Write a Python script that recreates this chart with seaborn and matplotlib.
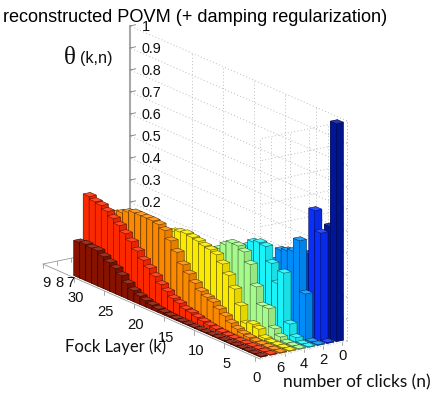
import numpy as np
import pandas as pd
import matplotlib
matplotlib.use("Agg")
import matplotlib.pyplot as plt
from matplotlib.colors import to_rgb
from mpl_toolkits.mplot3d import proj3d
import seaborn as sns

title_text = "reconstructed POVM (+ damping regularization)"
k_tick_labels = [0, 5, 10, 15, 20, 25, 30]
n_tick_labels = [0, 2, 4, 6]
n_far_labels = [9, 8, 7]
z_tick_labels = ["0.2", "0.3", "0.4", "0.5", "0.6", "0.7", "0.8", "0.9", "1"]
z_ticks = [0.2, 0.3, 0.4, 0.5, 0.6, 0.7, 0.8, 0.9, 1.0]
fock_layers = list(range(31))

# each list: k = 0 ... 30
theta_n0 = [.99, .51, .27, .14, .09, .06, .04, .03, .02, .015, .01, .008, .006, .005, .004, .003,
            .003, .002, .002, .002, .002, .002, .002, .002, .002, .002, .002, .002, .002, .002, .002]
theta_n1 = [.004, .49, .58, .37, .30, .20, .15, .10, .07, .05, .035, .025, .018, .012, .009, .007,
            .005, .004, .003, .003, .002, .002, .002, .002, .002, .002, .002, .002, .002, .002, .002]
theta_n2 = [.003, .004, .21, .44, .38, .37, .36, .30, .24, .20, .16, .13, .10, .08, .06, .045,
            .035, .028, .02, .016, .012, .01, .008, .006, .005, .004, .003, .003, .002, .002, .002]
theta_n3 = [.003, .003, .02, .07, .29, .23, .31, .375, .38, .37, .34, .30, .265, .23, .19, .16,
            .135, .115, .095, .08, .065, .05, .04, .03, .025, .02, .015, .012, .01, .008, .006]
theta_n4 = [.003, .003, .004, .02, .045, .125, .125, .20, .29, .335, .35, .35, .33, .30, .28, .25,
            .225, .195, .17, .145, .12, .10, .085, .07, .06, .05, .04, .032, .025, .02, .016]
theta_n5 = [.003, .003, .003, .003, .01, .04, .05, .04, .11, .175, .225, .265, .295, .305, .31, .32,
            .325, .33, .325, .315, .30, .29, .27, .25, .235, .215, .195, .18, .16, .14, .12]
theta_n6 = [.003, .003, .003, .003, .005, .01, .015, .025, .04, .06, .08, .10, .11, .125, .15, .18,
            .21, .255, .295, .33, .345, .35, .35, .35, .35, .34, .325, .31, .295, .285, .275]
theta_n7 = [.003, .003, .003, .003, .003, .003, .003, .004, .007, .01, .014, .02, .027, .036, .04, .055,
            .065, .085, .105, .13, .155, .18, .21, .24, .265, .29, .31, .33, .345, .35, .362]
theta_n8 = [.003, .003, .003, .003, .003, .003, .003, .003, .003, .003, .003, .003, .003, .004, .005, .007,
            .01, .014, .02, .028, .037, .05, .07, .095, .115, .13, .145, .16, .16, .165, .16]
row_values = [theta_n0, theta_n1, theta_n2, theta_n3, theta_n4, theta_n5, theta_n6, theta_n7, theta_n8]
row_colors = ["#00169a", "#0a30ff", "#0090ff", "#1cf8ff", "#a8ff8e", "#ffee00", "#ff8c00", "#ff2a00", "#8a1200"]

sns.set_theme(style="white", rc={"font.family": ["Liberation Sans", "DejaVu Sans"]})
palette = sns.color_palette(row_colors)
long = pd.DataFrame(
    [{"k": k, "n": n, "theta": v} for n, vals in enumerate(row_values) for k, v in zip(fock_layers, vals)]
)

W, H = 436, 406
fig = plt.figure(figsize=(W / 100, H / 100), dpi=100, facecolor="white")
ax = fig.add_axes([0, 0, 1, 1], projection="3d", proj_type="ortho", computed_zorder=False)
ax.view_init(elev=17.5, azim=145.5)
K0, K1, N0, N1 = -0.9, 35.1, -0.5, 8.7
ax.set_xlim(K0, K1); ax.set_ylim(N0, N1); ax.set_zlim(0, 1)
aspect = (383, 105.6, 230.7)
ax.set_box_aspect(aspect, zoom=1)
ax.set_axis_off()
ax.patch.set_visible(False)


def px(k, n, z):
    x, y, _ = proj3d.proj_transform(k, n, z, ax.get_proj())
    return ax.transData.transform((x, y))


# fit the box to the reference's frame corners
ax.apply_aspect()
a, c = px(K0, N0, 0), px(K1, N0, 0)
scale = np.hypot(217, 95) / np.hypot(*(a - c))
ax.set_box_aspect(aspect, zoom=scale)
ax.apply_aspect()
a = px(K0, N0, 0)
ax.set_position([(347 - a[0]) / W, ((H - 342) - a[1]) / H, 1, 1])
ax.apply_aspect()


def line(ks, ns, zs, **kw):
    ax.plot3D(ks, ns, zs, **{"zorder": 1, "clip_on": False, **kw})


grid = dict(color="#bcbcbc", lw=0.7, ls=(0, (1, 2.4)))
solid = dict(color="#9a9a9a", lw=0.6, ls="-")
walls_z = np.arange(1, 11) / 10
for z in walls_z:
    line([K0, K1], [N0, N0], [z, z], **grid)
    line([K0, K0], [N0, N1], [z, z], **grid)
for i in range(0, 6):
    kv = K0 + i * (K1 - K0) / 7
    line([kv, kv], [N0, N0], [0, 1], **grid)
for nv in [N0, 1.5, 3.5, 5.5, 7.5, N1]:
    line([K0, K0], [nv, nv], [0, 1], **grid)
line([K0, K0], [N0, N1], [0, 0], **grid)
line([K0, K1], [N0, N0], [0, 0], **grid)
line([K1, K1], [N0, N1], [0, 0], **solid)
line([K0, K1], [N1, N1], [0, 0], **solid)
line([K1, K1], [N0, N0], [0, 1], color="#a8a8a8", lw=1.5, ls="-")
for nv in [N1, 7.2, 5.7, 4.2]:
    line([K1, K1], [nv, nv], [0, -0.018], **solid)
for z in z_ticks:
    line([K1, K1], [N0, N0 - 0.6], [z, z], color="#777777", lw=0.6, ls="-")
for k in k_tick_labels:
    line([k, k], [N1, N1], [0, -0.02], **solid)
for n in n_tick_labels:
    line([K0, K0], [n, n], [0, -0.012], **solid)

# bars, far to near (painter's order)
wk, wn = 1.0, 0.75
order = long.sort_values(["k", "n"], ascending=[False, True])
for i, (k, n, v) in enumerate(order[["k", "n", "theta"]].itertuples(index=False)):
    base = np.array(to_rgb(palette[int(n)]))
    top = base * 0.86 + 0.14
    left = base * 0.98
    right = base * 0.90
    faces = [base, top, left, left, right, right]
    ax.bar3d(int(k) - wk / 2, n - wn / 2, 0, wk, wn, v, color=faces, shade=False,
             edgecolor=(0, 0, 0, 0.42), linewidth=0.4, zorder=10 + i)


def label(p, text, dx=0, dy=0, **kw):
    fig.text((p[0] + dx) / W, (p[1] + dy) / H, text, **{"ha": "center", "va": "center", "color": "#111111", **kw})


for tick, txt in zip(z_ticks, z_tick_labels):
    label(px(K1, N0, tick), txt, 12, 0, ha="left", fontsize=10.4)
for k in k_tick_labels:
    label(px(k, N1, 0), str(k), 2, -20, fontsize=10.6)
for n, nudge in zip(n_tick_labels, [-1, -1, -2, -6]):
    label(px(K0, n, 0), str(n), 1 + nudge, -13, fontsize=10.6)
for xp, txt in zip([46, 59, 70], n_far_labels):
    fig.text(xp / W, 1 - 283 / H, str(txt), ha="center", va="center", fontsize=10.6, color="#111111")

fig.text(3 / W, 1 - 18 / H, title_text, ha="left", va="center", fontsize=13.1, color="black")
fig.text(64 / W, 1 - 58 / H, "\u03b8", ha="left", va="center", fontsize=18, family="Liberation Serif", color="#111111")
fig.text(80 / W, 1 - 59 / H, "(k,n)", ha="left", va="center", fontsize=11.6, color="#111111")
fig.text(65 / W, 1 - 347 / H, "Fock Layer (k)", ha="left", va="center", fontsize=12, family="Lato", color="#111111")
fig.text(283 / W, 1 - 382 / H, "number of clicks (n)", ha="left", va="center", fontsize=12.4, family="Lato", color="#111111")

fig.savefig("out.png", dpi=100)
